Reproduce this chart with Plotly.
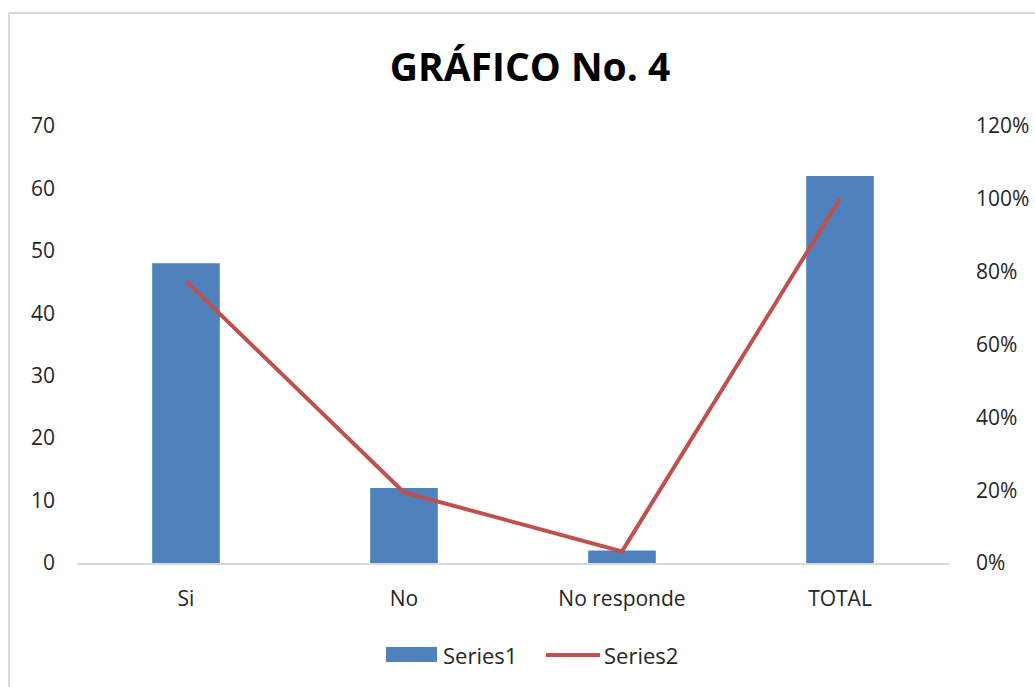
import plotly.graph_objects as go

categories = ["Si", "No", "No responde", "TOTAL"]
series1 = [48, 12, 2, 62]
series2 = [0.774, 0.194, 0.032, 1.0]
left_ticks = [0, 10, 20, 30, 40, 50, 60, 70]
right_ticks = [0, 0.2, 0.4, 0.6, 0.8, 1.0, 1.2]

FONT = "Open Sans, Liberation Sans, Arial"
BLUE = "#4f81bd"
RED = "#c0504d"

fig = go.Figure()
fig.add_trace(go.Bar(x=categories, y=series1, name="Series1",
                     marker=dict(color=BLUE, line=dict(width=0)),
                     width=0.31, showlegend=False))
fig.add_trace(go.Scatter(x=categories, y=series2, name="Series2", yaxis="y2",
                         mode="lines", line=dict(color=RED, width=4), showlegend=False))

W, H = 1035, 687
L, R, T, B = 77, 949, 126, 563

def px(x):
    return (x - L) / (R - L)

def py(y):
    return (B - y) / (B - T)

shapes = [
    dict(type="line", xref="paper", yref="paper", x0=px(9), x1=px(9), y0=py(13), y1=py(700),
         line=dict(color="#d9d9d9", width=2)),
    dict(type="line", xref="paper", yref="paper", x0=px(9), x1=px(1040), y0=py(13), y1=py(13),
         line=dict(color="#d9d9d9", width=2)),
    # legend keys
    dict(type="rect", xref="paper", yref="paper", x0=px(386), x1=px(437), y0=py(662), y1=py(647),
         line=dict(width=0), fillcolor=BLUE),
    dict(type="line", xref="paper", yref="paper", x0=px(546), x1=px(600), y0=py(655), y1=py(655),
         line=dict(color=RED, width=4)),
]
annotations = [
    dict(text="Series1", xref="paper", yref="paper", x=px(441), y=py(655), xanchor="left",
         yanchor="middle", showarrow=False, font=dict(family=FONT, size=22, color="#262626")),
    dict(text="Series2", xref="paper", yref="paper", x=px(602), y=py(655), xanchor="left",
         yanchor="middle", showarrow=False, font=dict(family=FONT, size=22, color="#262626")),
]

fig.update_layout(
    width=W, height=H,
    margin=dict(l=L, r=W - R, t=T, b=H - B, autoexpand=False),
    paper_bgcolor="white", plot_bgcolor="white",
    font=dict(family=FONT, size=21, color="#262626"),
    title=dict(text="<b>GRÁFICO No. 4</b>", x=530 / W, xanchor="center",
               y=1 - 67 / H, yanchor="middle", xref="container", yref="container",
               font=dict(family=FONT, size=39, color="#000000")),
    xaxis=dict(showgrid=False, showline=True, linecolor="#d9d9d9", linewidth=1.5,
               ticks="", ticklabelstandoff=16, zeroline=False, automargin=False),
    yaxis=dict(range=[0, 70], tickvals=left_ticks, showgrid=False, showline=False,
               zeroline=False, ticks="", ticklabelstandoff=21, automargin=False),
    yaxis2=dict(range=[0, 1.2], tickvals=right_ticks, tickformat=".0%", overlaying="y",
                side="right", showgrid=False, showline=False, zeroline=False,
                ticks="", ticklabelstandoff=26, automargin=False),
    showlegend=False,
    shapes=shapes,
    annotations=annotations,
)

fig.write_html("out.html")
